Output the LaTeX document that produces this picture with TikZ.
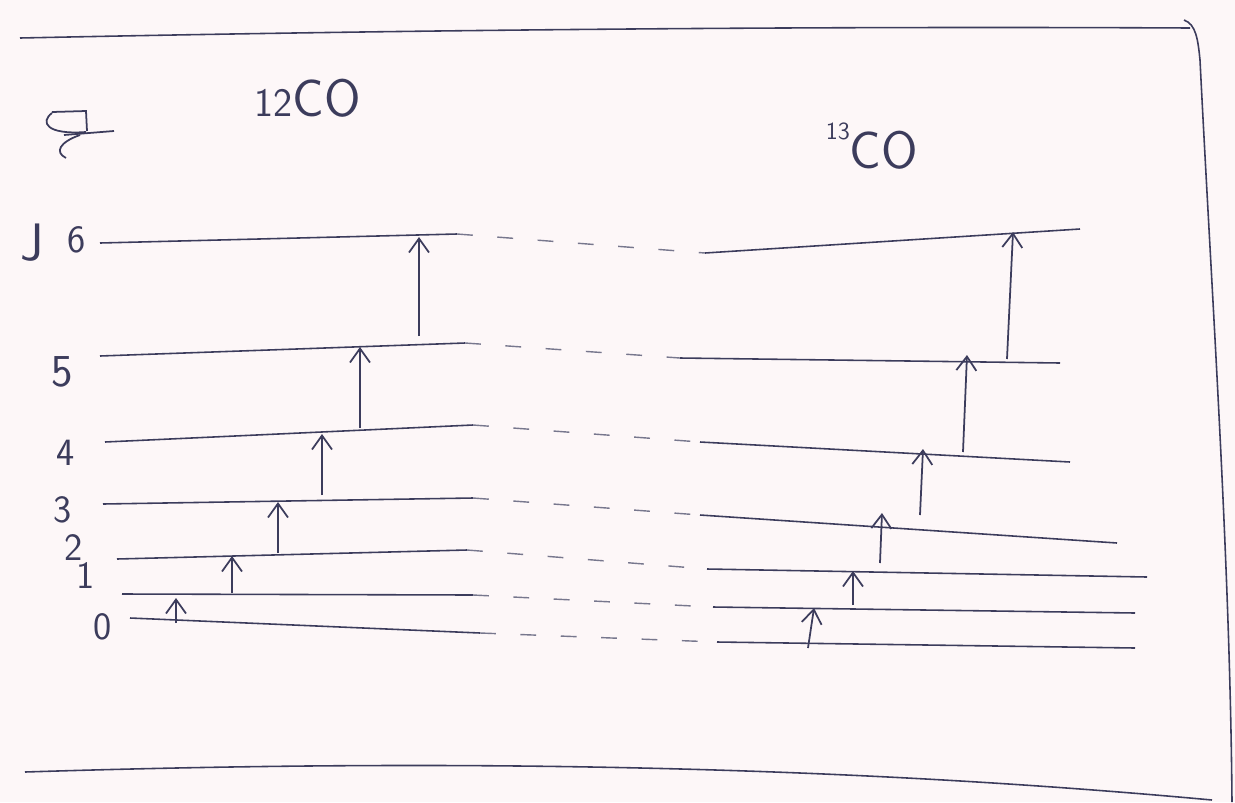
\documentclass[tikz,border=0pt]{standalone}
\usepackage{tikz}
\usetikzlibrary{arrows.meta}

\definecolor{ink}{HTML}{3C3C5C}
\definecolor{paper}{HTML}{FDF7F8}

\begin{document}
\begin{tikzpicture}[x=0.02cm, y=-0.02cm, >={Straight Barb[length=2.8mm,width=4mm]},
		level/.style={ink, line width=0.9pt},
		gap/.style={ink!70, line width=0.8pt, dash pattern=on 9pt off 14pt},
		trans/.style={->, ink, line width=1pt},
		num/.style={ink, inner sep=0pt, font=\sffamily\fontsize{22}{22}\selectfont}]
			\fill[paper] (0,0) rectangle (1235,802);
			\useasboundingbox (0,0) rectangle (1235,802);

			% Khung: duong tren, duong duoi, canh phai
			\draw[ink, line width=0.9pt] (20,38) .. controls (400,30) and (800,26) .. (1190,28);
			\draw[ink, line width=0.9pt] (25,772) .. controls (400,760) and (800,762) .. (1212,800);
			\draw[ink, line width=0.9pt] (1184,20) .. controls (1196,24) and (1198,40) .. (1200,60)
				.. controls (1212,300) and (1230,560) .. (1232,802);

			% Ky hieu o goc trai
			\draw[ink, line width=1pt] (52,112) -- (86,111) -- (87,131);
			\draw[ink, line width=1pt] (52,113) .. controls (40,122) and (46,135) .. (86,132);
			\draw[ink, line width=1pt] (64,135) -- (114,131);
			\draw[ink, line width=1pt] (80,135) .. controls (60,142) and (54,152) .. (66,158);

			% Tieu de hai dong vi
			\node[ink, inner sep=0pt, font=\sffamily\fontsize{30}{30}\selectfont] (iso12) at (308,98)
				{\fontsize{23}{23}\selectfont 12\fontsize{30}{30}\selectfont CO};
			\node[ink, inner sep=0pt, font=\sffamily\fontsize{30}{30}\selectfont] (iso13) at (872,146)
				{\raisebox{0.55em}{\fontsize{14}{14}\selectfont 13}CO};

			% Nhan J va cac muc
			\node[ink, inner sep=0pt, font=\sffamily\fontsize{30}{30}\selectfont] (jlab) at (32,243) {J};
			\node[num] (n6) at (77,240) {6};
			\node[num, font=\sffamily\fontsize{26}{26}\selectfont] (n5) at (62,372) {5};
			\node[num] (n4) at (66,453) {4};
			\node[num] (n3) at (63,510) {3};
			\node[num] (n2) at (74,548) {2};
			\node[num] (n1) at (86,576) {1};
			\node[num] (n0) at (103,627) {0};

			% Cac muc nang luong 12CO
			\coordinate (a6l) at (100,243); \coordinate (a6r) at (457,234);
			\coordinate (a5l) at (100,356); \coordinate (a5r) at (465,343);
			\coordinate (a4l) at (105,442); \coordinate (a4r) at (473,425);
			\coordinate (a3l) at (103,504); \coordinate (a3r) at (473,498);
			\coordinate (a2l) at (117,559); \coordinate (a2r) at (467,550);
			\coordinate (a1l) at (122,594); \coordinate (a1r) at (473,595);
			\coordinate (a0l) at (130,618); \coordinate (a0r) at (480,633);

			% Cac muc nang luong 13CO
			\coordinate (b6l) at (705,253); \coordinate (b6r) at (1080,229);
			\coordinate (b5l) at (680,358); \coordinate (b5r) at (1060,363);
			\coordinate (b4l) at (700,442); \coordinate (b4r) at (1070,462);
			\coordinate (b3l) at (700,515); \coordinate (b3r) at (1117,543);
			\coordinate (b2l) at (707,569); \coordinate (b2r) at (1147,577);
			\coordinate (b1l) at (713,607); \coordinate (b1r) at (1135,613);
			\coordinate (b0l) at (717,642); \coordinate (b0r) at (1135,648);

			\draw[level] (a6l) -- (a6r); \draw[gap] (a6r) -- (b6l); \draw[level] (b6l) -- (b6r);
			\draw[level] (a5l) -- (a5r); \draw[gap] (a5r) -- (b5l); \draw[level] (b5l) -- (b5r);
			\draw[level] (a4l) -- (a4r); \draw[gap] (a4r) -- (b4l); \draw[level] (b4l) -- (b4r);
			\draw[level] (a3l) -- (a3r); \draw[gap] (a3r) -- (b3l); \draw[level] (b3l) -- (b3r);
			\draw[level] (a2l) -- (a2r); \draw[gap] (a2r) -- (b2l); \draw[level] (b2l) -- (b2r);
			\draw[level] (a1l) -- (a1r); \draw[gap] (a1r) -- (b1l); \draw[level] (b1l) -- (b1r);
			\draw[level] (a0l) -- (a0r); \draw[gap] (a0r) -- (b0l); \draw[level] (b0l) -- (b0r);

			% Chuyen muc 12CO
			\coordinate (p01) at (176,623); \coordinate (q01) at (176,598);
			\coordinate (p12) at (232,593); \coordinate (q12) at (232,556);
			\coordinate (p23) at (278,553); \coordinate (q23) at (278,502);
			\coordinate (p34) at (322,495); \coordinate (q34) at (322,434);
			\coordinate (p45) at (360,428); \coordinate (q45) at (360,347);
			\coordinate (p56) at (419,336); \coordinate (q56) at (419,237);
			\draw[trans] (p01) -- (q01);
			\draw[trans] (p12) -- (q12);
			\draw[trans] (p23) -- (q23);
			\draw[trans] (p34) -- (q34);
			\draw[trans] (p45) -- (q45);
			\draw[trans] (p56) -- (q56);

			% Chuyen muc 13CO
			\coordinate (r01) at (808,648); \coordinate (s01) at (814,608);
			\coordinate (r12) at (853,605); \coordinate (s12) at (853,571);
			\coordinate (r23) at (880,563); \coordinate (s23) at (882,513);
			\coordinate (r34) at (920,515); \coordinate (s34) at (923,449);
			\coordinate (r45) at (963,452); \coordinate (s45) at (967,355);
			\coordinate (r56) at (1007,359); \coordinate (s56) at (1013,232);
			\draw[trans] (r01) -- (s01);
			\draw[trans] (r12) -- (s12);
			\draw[trans] (r23) -- (s23);
			\draw[trans] (r34) -- (s34);
			\draw[trans] (r45) -- (s45);
			\draw[trans] (r56) -- (s56);
		\end{tikzpicture}
\end{document}
